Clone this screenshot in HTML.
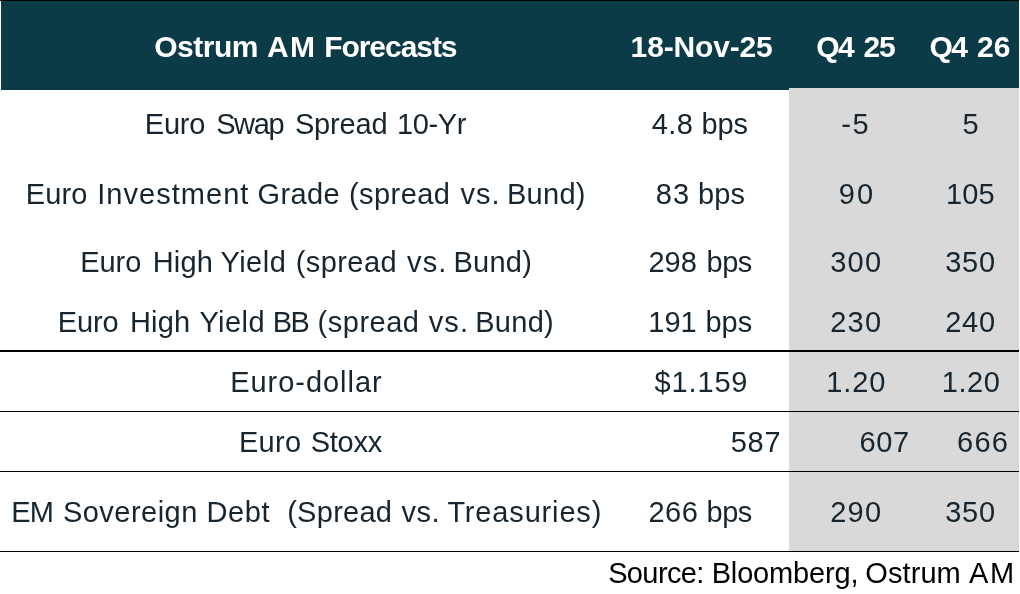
<!DOCTYPE html>
<html lang="en"><head><meta charset="utf-8"><title>Ostrum AM Forecasts</title>
<style>
html,body{margin:0;padding:0;background:#fff}
body{width:1020px;height:594px;position:relative;overflow:hidden;font-family:"Liberation Sans",sans-serif}
.hd{position:absolute;background:#0a3b47}
.gray{position:absolute;left:789px;top:88px;width:230px;height:463px;background:#d9d9d9}
.ln{position:absolute;left:0;width:1019px;background:#000}
.t{position:absolute;left:0;width:1020px;height:40px;line-height:40px;white-space:pre;margin:0}
.t span{position:absolute;top:0;white-space:pre}
.h{font-weight:bold;font-size:30px;color:#fff}
.b{font-size:29px;color:#16252f}
.s{font-size:29px;color:#000}
</style></head>
<body>
<div class="gray"></div>
<div class="hd" style="left:1px;top:0;width:788px;height:90px"></div>
<div class="hd" style="left:789px;top:0;width:230px;height:88px"></div>
<div class="ln" style="top:0;height:1px"></div>
<div class="ln" style="top:350px;height:2px"></div>
<div class="ln" style="top:411px;height:1px"></div>
<div class="ln" style="top:471px;height:1px"></div>
<div class="ln" style="top:551px;height:1px"></div>
<!-- row top 27 -->
<div class="t h" style="top:27px"><span style="left:154.3px;letter-spacing:-0.52px">Ostrum</span> <span style="left:267.05px;letter-spacing:1.3px">AM</span> <span style="left:324.2px;letter-spacing:-1.05px">Forecasts</span></div>
<div class="t h" style="top:27px"><span style="left:630.6px;letter-spacing:-0.15px">18-Nov-25</span></div>
<div class="t h" style="top:27px"><span style="left:816.2px;letter-spacing:-1.6px">Q4</span> <span style="left:863.4px;letter-spacing:-1.2px">25</span></div>
<div class="t h" style="top:27px"><span style="left:929.5px;letter-spacing:-1.6px">Q4</span> <span style="left:977.05px;letter-spacing:0.1px">26</span></div>
<!-- row top 104 -->
<div class="t b" style="top:104px"><span style="left:144.85px;letter-spacing:-0.23px">Euro</span> <span style="left:216.15px;letter-spacing:-1.37px">Swap</span> <span style="left:294.9px;letter-spacing:-0.16px">Spread</span> <span style="left:397.0px;letter-spacing:-0.4px">10-Yr</span></div>
<div class="t b" style="top:104px"><span style="left:651.65px;letter-spacing:0.45px">4.8</span> <span style="left:701.45px;letter-spacing:-0.05px">bps</span></div>
<div class="t b" style="top:104px"><span style="left:841.35px;letter-spacing:1.5px">-5</span></div>
<div class="t b" style="top:104px"><span style="left:962.6px">5</span></div>
<!-- row top 174 -->
<div class="t b" style="top:174px"><span style="left:25.85px;letter-spacing:0.1px">Euro</span> <span style="left:97.2px;letter-spacing:1.04px">Investment</span> <span style="left:257.55px;letter-spacing:0.38px">Grade</span> <span style="left:349.0px;letter-spacing:0.43px">(spread</span> <span style="left:460.4px;letter-spacing:1.1px">vs.</span> <span style="left:506.9px;letter-spacing:0.3px">Bund)</span></div>
<div class="t b" style="top:174px"><span style="left:655.85px;letter-spacing:1.1px">83</span> <span style="left:698.0px;letter-spacing:0.1px">bps</span></div>
<div class="t b" style="top:174px"><span style="left:838.7px;letter-spacing:2.2px">90</span></div>
<div class="t b" style="top:174px"><span style="left:946.05px;letter-spacing:0.15px">105</span></div>
<!-- row top 242 -->
<div class="t b" style="top:242px"><span style="left:80.35px;letter-spacing:-0.1px">Euro</span> <span style="left:152.75px;letter-spacing:0.17px">High</span> <span style="left:220.4px;letter-spacing:0.5px">Yield</span> <span style="left:295.7px;letter-spacing:0.43px">(spread</span> <span style="left:407.1px;letter-spacing:1.1px">vs.</span> <span style="left:453.5px;letter-spacing:0.25px">Bund)</span></div>
<div class="t b" style="top:242px"><span style="left:648.4px">298</span> <span style="left:706.5px;letter-spacing:-0.5px">bps</span></div>
<div class="t b" style="top:242px"><span style="left:830.2px;letter-spacing:1.3px">300</span></div>
<div class="t b" style="top:242px"><span style="left:945.35px;letter-spacing:0.65px">350</span></div>
<!-- row top 302 -->
<div class="t b" style="top:302px"><span style="left:57.65px;letter-spacing:-0.1px">Euro</span> <span style="left:130.0px;letter-spacing:0.13px">High</span> <span style="left:199.4px;letter-spacing:0.45px">Yield</span> <span style="left:272.8px;letter-spacing:-1.6px">BB</span> <span style="left:317.55px;letter-spacing:0.52px">(spread</span> <span style="left:428.7px;letter-spacing:1.1px">vs.</span> <span style="left:475.2px;letter-spacing:0.3px">Bund)</span></div>
<div class="t b" style="top:302px"><span style="left:648.25px;letter-spacing:0.05px">191</span> <span style="left:705.45px;letter-spacing:0.05px">bps</span></div>
<div class="t b" style="top:302px"><span style="left:830.2px;letter-spacing:1.3px">230</span></div>
<div class="t b" style="top:302px"><span style="left:945.35px;letter-spacing:0.65px">240</span></div>
<!-- row top 362 -->
<div class="t b" style="top:362px"><span style="left:230.15px;letter-spacing:0.97px">Euro-dollar</span></div>
<div class="t b" style="top:362px"><span style="left:654.6px;letter-spacing:0.84px">$1.159</span></div>
<div class="t b" style="top:362px"><span style="left:826.3px;letter-spacing:0.87px">1.20</span></div>
<div class="t b" style="top:362px"><span style="left:941.7px;letter-spacing:0.6px">1.20</span></div>
<!-- row top 422 -->
<div class="t b" style="top:422px"><span style="left:238.95px;letter-spacing:0.3px">Euro</span> <span style="left:310.75px;letter-spacing:-0.28px">Stoxx</span></div>
<div class="t b" style="top:422px"><span style="left:730.65px;letter-spacing:0.85px">587</span></div>
<div class="t b" style="top:422px"><span style="left:859.4px;letter-spacing:0.7px">607</span></div>
<div class="t b" style="top:422px"><span style="left:957.0px;letter-spacing:1.3px">666</span></div>
<!-- row top 492 -->
<div class="t b" style="top:492px"><span style="left:11.2px;letter-spacing:-0.8px">EM</span> <span style="left:62.9px;letter-spacing:0.48px">Sovereign</span> <span style="left:206.6px;letter-spacing:0.53px">Debt</span>  <span style="left:287.2px;letter-spacing:0.27px">(Spread</span> <span style="left:401.55px;letter-spacing:0.45px">vs.</span> <span style="left:447.4px;letter-spacing:0.84px">Treasuries)</span></div>
<div class="t b" style="top:492px"><span style="left:648.4px;letter-spacing:0.5px">266</span> <span style="left:706.5px;letter-spacing:-0.5px">bps</span></div>
<div class="t b" style="top:492px"><span style="left:830.2px;letter-spacing:1.3px">290</span></div>
<div class="t b" style="top:492px"><span style="left:945.35px;letter-spacing:0.65px">350</span></div>
<!-- row top 553 -->
<div class="t s" style="top:553px"><span style="left:608.15px;letter-spacing:-0.62px">Source:</span> <span style="left:711.7px;letter-spacing:-0.16px">Bloomberg,</span> <span style="left:865.3px;letter-spacing:0.08px">Ostrum</span> <span style="left:969.0px;letter-spacing:1.6px">AM</span></div>
</body></html>
